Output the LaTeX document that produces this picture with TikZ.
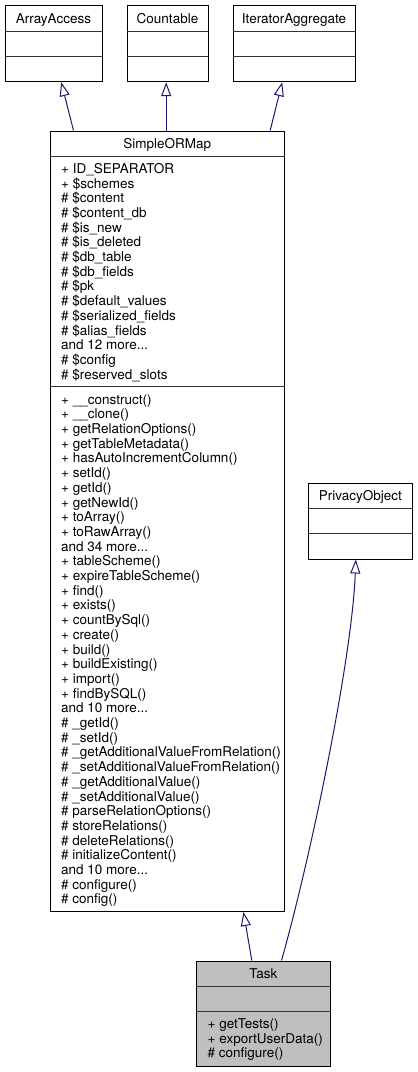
\documentclass[tikz,border=0pt]{standalone}
\usepackage{fontspec}
\setmainfont{TeX Gyre Heros}
\usetikzlibrary{arrows.meta,calc}
\definecolor{edgeblue}{HTML}{191970}
\definecolor{taskgray}{HTML}{BFBFBF}
\newcommand\mydots{...}
\begin{document}
\begin{tikzpicture}[x=1pt,y=-1pt,
  cls/.style={draw=black, line width=1pt, fill=white, inner sep=0pt, rectangle},
  div/.style={draw=black!80, line width=1pt},
  txt/.style={inner sep=0pt, font=\fontsize{13.5}{15}\selectfont},
  inh/.style={draw=edgeblue, line width=1pt, -{Triangle[open, length=14pt, width=10pt]}}]
\useasboundingbox (0,0) rectangle (418,1072);

% ---- class boxes ----
\node[cls, minimum width=97pt, minimum height=76pt] (aa) at (53.5,43.7) {};
\node[cls, minimum width=81pt, minimum height=76pt] (cnt) at (167.5,43.7) {};
\node[cls, minimum width=122pt, minimum height=76pt] (it) at (294,43.7) {};
\node[cls, minimum width=234.5pt, minimum height=780.5pt] (simple) at (167.25,521.25) {};
\node[cls, minimum width=104pt, minimum height=75.7pt] (priv) at (360.3,521.15) {};
\node[cls, fill=taskgray, minimum width=134.7pt, minimum height=105pt] (task) at (263.35,1013.5) {};

% ---- dividers ----
\draw[div] (5,31.7) -- (102,31.7);   \draw[div] (5,56.7) -- (102,56.7);
\draw[div] (127,31.7) -- (208,31.7); \draw[div] (127,56.7) -- (208,56.7);
\draw[div] (233,31.7) -- (355,31.7); \draw[div] (233,56.7) -- (355,56.7);
\draw[div] (50,156) -- (284.5,156);  \draw[div] (50,386.8) -- (284.5,386.8);
\draw[div] (308.3,508.7) -- (412.3,508.7); \draw[div] (308.3,533.3) -- (412.3,533.3);
\draw[div] (196,986) -- (330.7,986); \draw[div] (196,1011) -- (330.7,1011);

% ---- headers ----
\node[txt, anchor=base] (aah) at (53.5,23.5) {ArrayAccess};
\node[txt, anchor=base] (cnth) at (167.5,23.5) {Countable};
\node[txt, anchor=base] (ith) at (294,23.5) {IteratorAggregate};
\node[txt, anchor=base] (simpleh) at (167.25,148.3) {SimpleORMap};
\node[txt, anchor=base] (privh) at (360.3,500.8) {PrivacyObject};
\node[txt, anchor=base] (taskh) at (263.35,978.3) {Task};

% ---- SimpleORMap attributes ----
\foreach \t [count=\i from 0] in {%
  + ID\_SEPARATOR, + \$schemes, \# \$content, \# \$content\_db, \# \$is\_new,
  \# \$is\_deleted, \# \$db\_table, \# \$db\_fields, \# \$pk, \# \$default\_values,
  \# \$serialized\_fields, \# \$alias\_fields, and 12 more\mydots, \# \$config,
  \# \$reserved\_slots}
  \node[txt, anchor=base west] (attr\i) at (61,{168.5+14.7*\i+4.8}) {\t};

% ---- SimpleORMap methods ----
\foreach \t [count=\i from 0] in {%
  + \_\_construct(), + \_\_clone(), + getRelationOptions(), + getTableMetadata(),
  + hasAutoIncrementColumn(), + setId(), + getId(), + getNewId(), + toArray(),
  + toRawArray(), and 34 more\mydots, + tableScheme(), + expireTableScheme(),
  + find(), + exists(), + countBySql(), + create(), + build(), + buildExisting(),
  + import(), + findBySQL(), and 10 more\mydots, \# \_getId(), \# \_setId(),
  \# \_getAdditionalValueFromRelation(), \# \_setAdditionalValueFromRelation(),
  \# \_getAdditionalValue(), \# \_setAdditionalValue(), \# parseRelationOptions(),
  \# storeRelations(), \# deleteRelations(), \# initializeContent(),
  and 10 more\mydots, \# configure(), \# config()}
  \node[txt, anchor=base west] (meth\i) at (61,{399.3+14.7*\i+4.8}) {\t};

% ---- Task methods ----
\foreach \t [count=\i from 0] in {+ getTests(), + exportUserData(), \# configure()}
  \node[txt, anchor=base west] (tm\i) at (207.5,{1023.5+14.7*\i+4.8}) {\t};

% ---- inheritance connectors ----
\draw[inh] ($(simple.north west)+(24,0)$) -- ($(aa.south west)+(56.7,0)$);
\draw[inh] ($(simple.north west)+(116.7,0)$) -- ($(cnt.south west)+(39.7,0)$);
\draw[inh] ($(simple.north west)+(220.7,0)$) -- ($(it.south west)+(49.7,0)$);
\draw[inh] ($(task.north west)+(56.3,0)$) -- ($(simple.south west)+(194,0)$);
\draw[inh] ($(task.north west)+(86,0)$) .. controls (310,860) and (352,660) .. ($(priv.south west)+(48,0)$);
\end{tikzpicture}
\end{document}
